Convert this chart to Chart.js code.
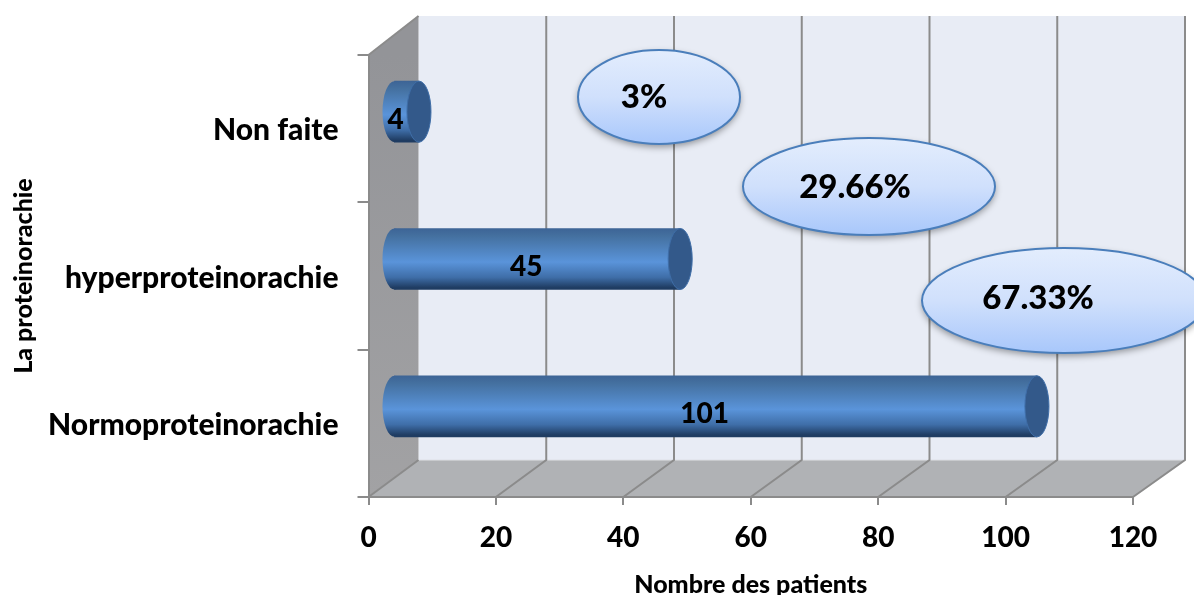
<!DOCTYPE html>
<html>
<head>
<meta charset="utf-8">
<title>La proteinorachie</title>
<script src="https://cdn.jsdelivr.net/npm/chart.js@4"></script>
<style>
html, body { margin: 0; padding: 0; background: #fff; overflow: hidden; }
canvas { display: block; }
</style>
</head>
<body>
<canvas id="myChart" width="1194" height="595"></canvas>
<script>
var categories = ['Non faite', 'hyperproteinorachie', 'Normoproteinorachie'];
var patients = [4, 45, 101];
var percentLabels = ['3%', '29.66%', '67.33%'];
var xTicks = [0, 20, 40, 60, 80, 100, 120];

var FONT = 'Lato, Carlito, sans-serif';
var LINE = '#8b8b8b';
// depth of the fake 3d box, and how far the bars sit inside it
var DEPTH_X = 50, DEPTH_Y = -37;
var BAR_DX = 25, BAR_DY = -17;
var CAP_RX = 12;
var BAR_H = 61;

function barGradient(ctx, top, h) {
    var g = ctx.createLinearGradient(0, top, 0, top + h);
    g.addColorStop(0, '#3d6496');
    g.addColorStop(0.12, '#44709f');
    g.addColorStop(0.55, '#5a94da');
    g.addColorStop(0.8, '#3f6ea8');
    g.addColorStop(0.97, '#1f3c62');
    g.addColorStop(1, '#1f3c62');
    return g;
}

var box3d = {
    id: 'box3d',
    beforeDraw: function(chart) {
        var c = chart.ctx, a = chart.chartArea, sx = chart.scales.x;
        var backL = a.left + DEPTH_X, backR = a.right + DEPTH_X + 2;
        var backT = a.top + DEPTH_Y - 2, backB = a.bottom + DEPTH_Y;
        c.save();
        // back wall
        c.fillStyle = '#e8ecf5';
        c.fillRect(backL, backT, backR - backL, backB - backT);
        // left wall
        var lw = c.createLinearGradient(0, a.top, 0, a.bottom);
        lw.addColorStop(0, '#939498');
        lw.addColorStop(1, '#a2a2a4');
        c.fillStyle = lw;
        c.beginPath();
        c.moveTo(a.left, a.top);
        c.lineTo(backL, backT);
        c.lineTo(backL, backB);
        c.lineTo(a.left, a.bottom);
        c.closePath();
        c.fill();
        // floor
        c.fillStyle = '#b0b2b5';
        c.beginPath();
        c.moveTo(a.left, a.bottom);
        c.lineTo(backL, backB);
        c.lineTo(backR, backB);
        c.lineTo(a.right, a.bottom);
        c.closePath();
        c.fill();
        c.strokeStyle = '#dfe1e6';
        c.lineWidth = 1;
        c.beginPath();
        c.moveTo(backL, backB);
        c.lineTo(backR, backB);
        c.stroke();
        // gridlines, back wall and floor
        c.strokeStyle = LINE;
        c.lineWidth = 2;
        xTicks.forEach(function(v) {
            var x = sx.getPixelForValue(v);
            var bx = x + DEPTH_X + 2 * v / 120;
            c.beginPath();
            c.moveTo(x, a.bottom);
            c.lineTo(bx, backB);
            if (v > 0) c.lineTo(bx, backT);
            c.stroke();
        });
        c.beginPath();
        c.moveTo(a.left, a.top);
        c.lineTo(backL, backT);
        c.stroke();
        c.restore();
    },
    beforeDatasetDraw: function(chart, args) {
        var c = chart.ctx;
        c.save();
        c.translate(BAR_DX, BAR_DY);
        // round left end of each cylinder
        args.meta.data.forEach(function(bar) {
            var top = bar.y - BAR_H / 2;
            c.fillStyle = barGradient(c, top, BAR_H);
            c.beginPath();
            c.ellipse(bar.base, bar.y, CAP_RX, BAR_H / 2, 0, 0, Math.PI * 2);
            c.fill();
        });
    },
    afterDatasetDraw: function(chart, args) {
        var c = chart.ctx;
        // dark end cap
        args.meta.data.forEach(function(bar) {
            c.fillStyle = '#33598a';
            c.strokeStyle = '#3f6ea8';
            c.lineWidth = 1;
            c.beginPath();
            c.ellipse(bar.x, bar.y, CAP_RX, BAR_H / 2, 0, 0, Math.PI * 2);
            c.fill();
            c.stroke();
        });
        c.fillStyle = '#000';
        c.font = '900 28px ' + FONT;
        c.textAlign = 'center';
        c.textBaseline = 'middle';
        args.meta.data.forEach(function(bar, i) {
            c.fillText(patients[i], (bar.base + bar.x) / 2 - 11, bar.y + 8);
        });
        c.restore();
    },
    afterDatasetsDraw: function(chart) {
        var c = chart.ctx;
        var spots = [
            { x: 659, y: 97, rx: 81, ry: 47, tx: 644, ty: 97 },
            { x: 869, y: 186.5, rx: 126, ry: 48.5, tx: 855, ty: 187 },
            { x: 1064, y: 300.5, rx: 142, ry: 52.5, tx: 1038, ty: 298 }
        ];
        spots.forEach(function(s, i) {
            var g = c.createLinearGradient(0, s.y - s.ry, 0, s.y + s.ry);
            g.addColorStop(0, '#e3edfd');
            g.addColorStop(0.5, '#d0e0fc');
            g.addColorStop(1, '#a8c7fb');
            c.save();
            c.shadowColor = 'rgba(0,0,0,0.4)';
            c.shadowBlur = 7;
            c.shadowOffsetY = 3;
            c.fillStyle = g;
            c.beginPath();
            c.ellipse(s.x, s.y, s.rx, s.ry, 0, 0, Math.PI * 2);
            c.fill();
            c.restore();
            c.strokeStyle = '#4a7ebb';
            c.lineWidth = 2;
            c.beginPath();
            c.ellipse(s.x, s.y, s.rx, s.ry, 0, 0, Math.PI * 2);
            c.stroke();
            c.fillStyle = '#000';
            c.font = '900 33px ' + FONT;
            c.textAlign = 'center';
            c.textBaseline = 'middle';
            c.fillText(percentLabels[i], s.tx, s.ty);
        });
    }
};

var ctx = document.getElementById('myChart').getContext('2d');
var myChart = new Chart(ctx, {
    type: 'bar',
    plugins: [box3d],
    data: {
        labels: categories,
        datasets: [{
            label: 'Nombre des patients',
            data: patients,
            barThickness: BAR_H,
            borderWidth: 0,
            backgroundColor: function(context) {
                var sy = context.chart.scales.y;
                if (!sy || context.dataIndex === undefined) return '#5a94da';
                var mid = sy.getPixelForValue(context.dataIndex);
                if (!isFinite(mid)) return '#5a94da';
                return barGradient(context.chart.ctx, mid - BAR_H / 2, BAR_H);
            }
        }]
    },
    options: {
        indexAxis: 'y',
        responsive: false,
        animation: false,
        layout: { padding: { top: 55, right: 61, left: 0, bottom: 0 } },
        plugins: { legend: { display: false }, tooltip: { enabled: false } },
        scales: {
            x: {
                min: 0,
                max: 120,
                afterFit: function(scale) { scale.height = 98; },
                afterBuildTicks: function(scale) {
                    scale.ticks = xTicks.map(function(v) { return { value: v }; });
                },
                border: { color: LINE, width: 2 },
                grid: { drawOnChartArea: false, drawTicks: true, tickLength: 8, color: LINE, lineWidth: 2 },
                ticks: {
                    color: '#000',
                    maxRotation: 0,
                    padding: 16,
                    font: { family: FONT, size: 28, weight: '900' }
                },
                title: {
                    display: true,
                    text: 'Nombre des patients',
                    color: '#000',
                    padding: { top: 0, bottom: -5 },
                    font: { family: FONT, size: 25, weight: '900' }
                }
            },
            y: {
                afterFit: function(scale) { scale.width = 368.5; },
                border: { color: LINE, width: 2 },
                grid: { drawOnChartArea: false, drawTicks: true, tickLength: 11, color: LINE, lineWidth: 2 },
                ticks: {
                    color: '#000',
                    padding: 19,
                    labelOffset: 2,
                    font: { family: FONT, size: 30, weight: '900' }
                },
                title: {
                    display: true,
                    text: 'La proteinorachie',
                    color: '#000',
                    padding: { top: 9, bottom: 0 },
                    font: { family: FONT, size: 25, weight: '900' }
                }
            }
        }
    }
});
</script>
</body>
</html>
